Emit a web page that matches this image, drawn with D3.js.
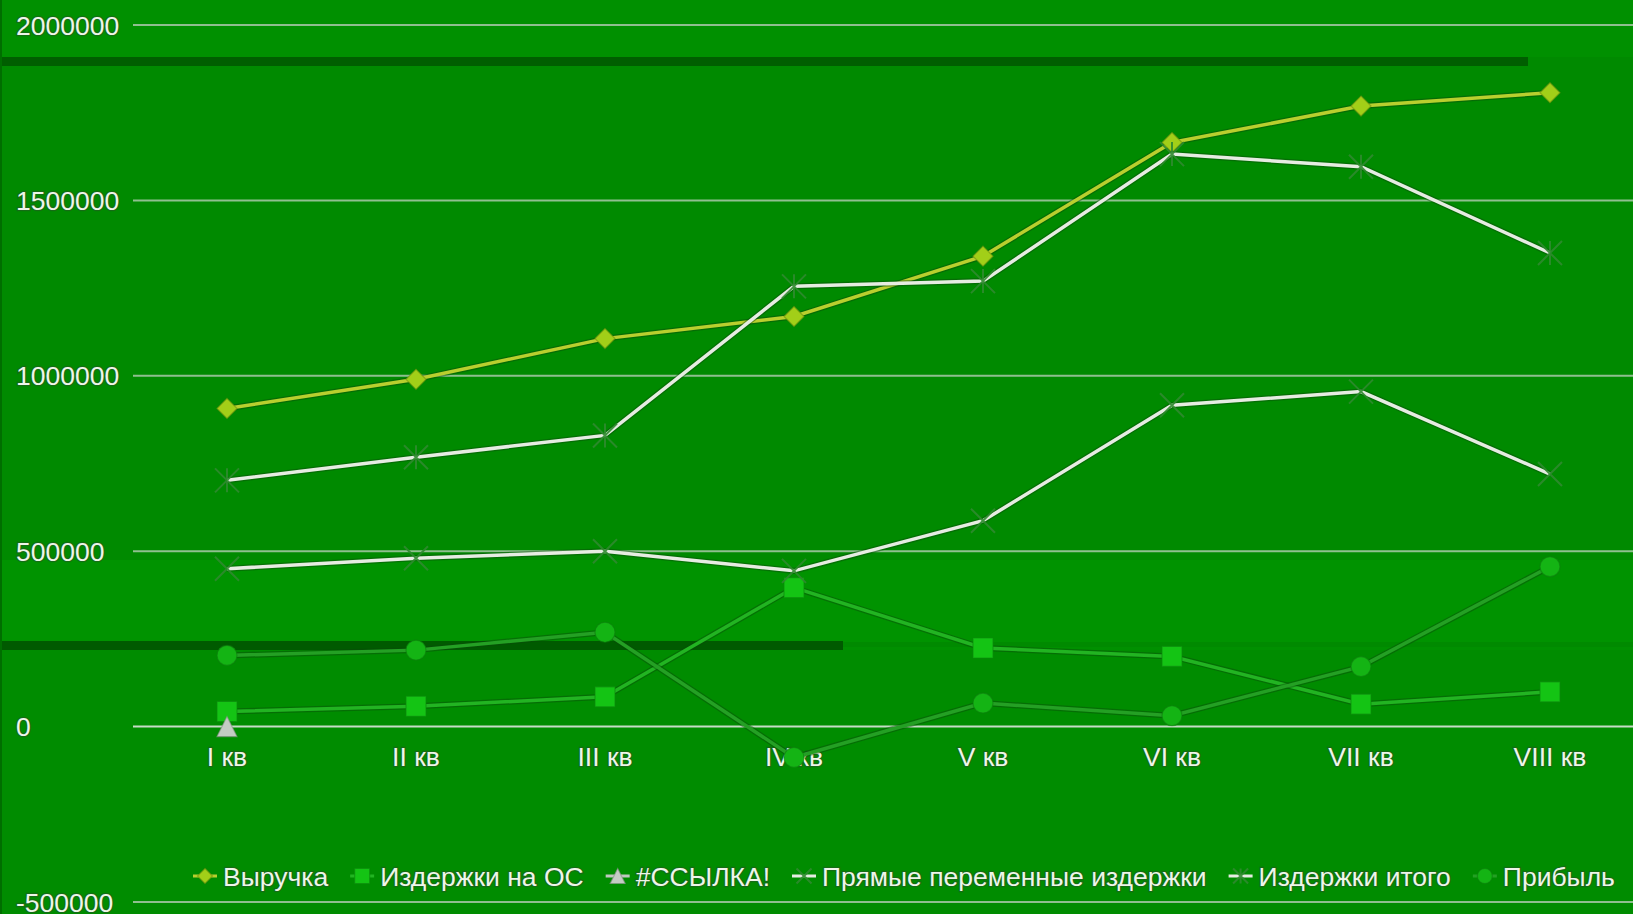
<!DOCTYPE html>
<meta charset="utf-8">
<style>
body { margin: 0; background: #009000; }
svg { display: block; }
.lbl {
  font-family: "Liberation Sans", Arial, sans-serif;
  font-size: 26.5px;
  fill: #eef5ea;
  stroke: #1f5f1f;
  stroke-width: 2.5px;
  stroke-opacity: 0.7;
  paint-order: stroke;
}
.grid line { stroke: #8fbf8f; stroke-width: 2px; }
.grid .zero { stroke: #c6dcc6; }
</style>
<svg width="1633" height="914"></svg>
<script src="https://cdn.jsdelivr.net/npm/d3@7"></script>
<script>

var quarters = ["I кв", "II кв", "III кв", "IV кв", "V кв", "VI кв", "VII кв", "VIII кв"];
var yTicks = [-500000, 0, 500000, 1000000, 1500000, 2000000];

var revenue   = [907000, 990000, 1106000, 1169000, 1341000, 1665000, 1769000, 1807000];
var osCosts   = [43000, 58000, 85000, 396000, 224000, 200000, 64000, 99000];
var refErr    = [0, null, null, null, null, null, null, null];
var directVar = [450000, 480000, 500000, 444000, 587000, 916000, 955000, 720000];
var totalCost = [702000, 768000, 830000, 1255000, 1270000, 1632000, 1596000, 1350000];
var profit    = [203000, 218000, 269000, -88000, 67000, 31000, 171000, 456000];

var series = [
  {name: "Выручка", values: revenue, line: "#b9cf2e", fill: "#a2cf18", marker: "diamond"},
  {name: "Издержки на ОС", values: osCosts, line: "#22b422", fill: "#14c414", marker: "square"},
  {name: "#ССЫЛКА!", values: refErr, line: "#bfc8bf", fill: "#c4ccc4", marker: "triangle"},
  {name: "Прямые переменные издержки", values: directVar, line: "#e6ece2", fill: "#2f8a2f", marker: "x"},
  {name: "Издержки итого", values: totalCost, line: "#e6ece2", fill: "#2f8a2f", marker: "star"},
  {name: "Прибыль", values: profit, line: "#24a024", fill: "#14b414", marker: "circle"}
];

var svg = d3.select("svg"),
    width = +svg.attr("width"),
    height = +svg.attr("height");

// background bands (scan artefacts of the original)
var bg = svg.append("g");
bg.append("rect").attr("x", 0).attr("y", 0).attr("width", width).attr("height", height).attr("fill", "#009000");
bg.append("rect").attr("x", 0).attr("y", 57).attr("width", width).attr("height", 590).attr("fill", "#008a00");
bg.append("rect").attr("x", 0).attr("y", 560).attr("width", width).attr("height", 82).attr("fill", "#009300");
bg.append("rect").attr("x", 0).attr("y", 57).attr("width", 1528).attr("height", 9).attr("fill", "#005e00");
bg.append("rect").attr("x", 0).attr("y", 641).attr("width", 843).attr("height", 9).attr("fill", "#005a00");
bg.append("rect").attr("x", 0).attr("y", 650).attr("width", width).attr("height", 264).attr("fill", "#008c00");
bg.append("rect").attr("x", 0).attr("y", 0).attr("width", 2).attr("height", height).attr("fill", "#006e00");

var x = d3.scalePoint()
    .domain(quarters)
    .range([227, 1550]);

var y = d3.scaleLinear()
    .domain([-500000, 2000000])
    .range([902, 25]);

var grid = svg.append("g").attr("class", "grid");
grid.selectAll("line")
    .data(yTicks)
  .enter().append("line")
    .attr("class", function(d) { return d === 0 ? "zero" : null; })
    .attr("x1", 133)
    .attr("x2", width)
    .attr("y1", function(d) { return y(d); })
    .attr("y2", function(d) { return y(d); });

svg.append("g").selectAll("text")
    .data(yTicks)
  .enter().append("text")
    .attr("class", "lbl")
    .attr("x", 16)
    .attr("y", function(d) { return y(d); })
    .attr("dy", "0.36em")
    .text(function(d) { return d; });

svg.append("g").selectAll("text")
    .data(quarters)
  .enter().append("text")
    .attr("class", "lbl")
    .attr("x", function(d) { return x(d); })
    .attr("y", y(0) + 39)
    .attr("text-anchor", "middle")
    .text(function(d) { return d; });

function markerPath(type, s) {
  var h = s / 2;
  switch (type) {
    case "diamond": return "M0," + (-h) + "L" + h + ",0L0," + h + "L" + (-h) + ",0Z";
    case "square": return "M" + (-h) + "," + (-h) + "h" + s + "v" + s + "h" + (-s) + "Z";
    case "triangle": return "M0," + (-h) + "L" + h + "," + h + "L" + (-h) + "," + h + "Z";
    case "circle": return d3.symbol(d3.symbolCircle, Math.PI * h * h)();
    case "x": return "M" + (-h) + "," + (-h) + "L" + h + "," + h + "M" + h + "," + (-h) + "L" + (-h) + "," + h;
    case "star": return "M" + (-h) + "," + (-h) + "L" + h + "," + h + "M" + h + "," + (-h) + "L" + (-h) + "," + h + "M0," + (-h) + "V" + h;
  }
}

function drawMarker(g, s, size) {
  var open = s.marker === "x" || s.marker === "star";
  g.append("path")
      .attr("d", markerPath(s.marker, size))
      .attr("fill", open ? "none" : s.fill)
      .attr("stroke", open ? s.fill : d3.color(s.fill).darker(1))
      .attr("stroke-width", open ? 2 : 1.2)
      .attr("stroke-opacity", open ? 0.9 : 0.6);
}

var line = d3.line()
    .defined(function(d) { return d != null; })
    .x(function(d, i) { return x(quarters[i]); })
    .y(function(d) { return y(d); });

var plot = svg.append("g");
series.forEach(function(s) {
  var g = plot.append("g");
  g.append("path")
      .attr("d", line(s.values))
      .attr("fill", "none")
      .attr("stroke", "#0a4a0a")
      .attr("stroke-opacity", 0.45)
      .attr("stroke-width", 6);
  g.append("path")
      .attr("d", line(s.values))
      .attr("fill", "none")
      .attr("stroke", s.line)
      .attr("stroke-width", 3.5);
  s.values.forEach(function(v, i) {
    if (v == null) return;
    var m = g.append("g").attr("transform", "translate(" + x(quarters[i]) + "," + y(v) + ")");
    drawMarker(m, s, s.marker === "star" || s.marker === "x" ? 24 : 20);
  });
});

// legend
var legend = svg.append("g").attr("transform", "translate(193," + 876 + ")");
var lx = 0;
series.forEach(function(s) {
  var item = legend.append("g").attr("transform", "translate(" + lx + ",0)");
  item.append("line")
      .attr("x1", 0).attr("x2", 24)
      .attr("stroke", s.line)
      .attr("stroke-width", 3);
  var m = item.append("g").attr("transform", "translate(12,0)");
  drawMarker(m, s, 15);
  var t = item.append("text")
      .attr("class", "lbl")
      .attr("x", 30)
      .attr("dy", "0.36em")
      .text(s.name);
  lx += 30 + t.node().getComputedTextLength() + 22;
});

</script>
